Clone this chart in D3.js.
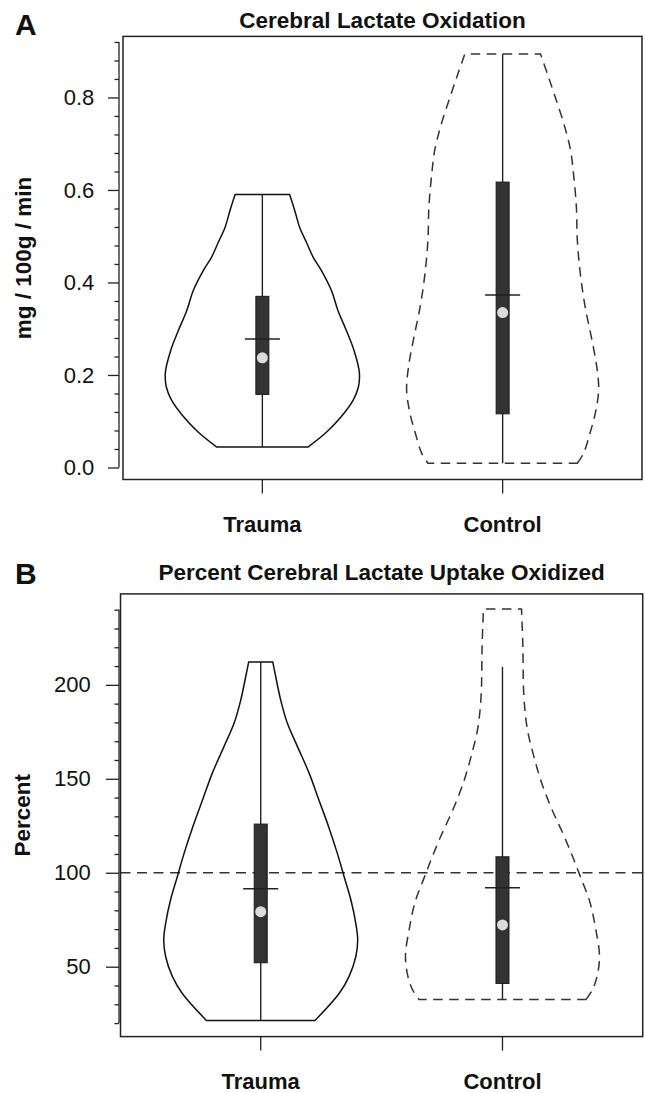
<!DOCTYPE html>
<html><head><meta charset="utf-8">
<script src="https://cdn.jsdelivr.net/npm/d3@7"></script>
<style>
body{margin:0;background:#fff}
svg{display:block}
text{font-family:"Liberation Sans",Arial,Helvetica,sans-serif;fill:#111}
</style>
</head><body>
<svg id="chart" width="645" height="1093"></svg>
<script>
// ---------------- DATA ----------------
const categories = ["Trauma", "Control"];

// Panel A : Cerebral Lactate Oxidation
const aTitle = "Cerebral Lactate Oxidation";
const aYLabel = "mg / 100g / min";
const aMajorTicks = [0.0, 0.2, 0.4, 0.6, 0.8];
const aTickLabels = ["0.0", "0.2", "0.4", "0.6", "0.8"];
const aMinorTicks = [0.04,0.08,0.12,0.16,0.24,0.28,0.32,0.36,0.44,0.48,0.52,0.56,0.64,0.68,0.72,0.76,0.84,0.88,0.92];
const aWhiskerLow  = [0.044, 0.009];
const aWhiskerHigh = [0.590, 0.894];
const aQ1     = [0.158, 0.116];
const aQ3     = [0.370, 0.617];
const aMedian = [0.237, 0.335];
const aMean   = [0.278, 0.373];
// violin profiles: [value, relative density]
const aTraumaDensity = [
  [0.044,0.47],[0.076,0.66],[0.109,0.81],[0.145,0.935],[0.174,0.99],[0.205,1.0],
  [0.253,0.945],[0.296,0.866],[0.339,0.78],[0.383,0.711],[0.426,0.608],[0.455,0.523],
  [0.487,0.454],[0.519,0.385],[0.556,0.333],[0.590,0.281]
];
const aControlDensity = [
  [0.009,0.77],[0.031,0.835],[0.074,0.90],[0.117,0.955],[0.168,0.99],[0.218,0.97],
  [0.276,0.92],[0.348,0.85],[0.420,0.80],[0.492,0.77],[0.564,0.76],[0.636,0.73],
  [0.686,0.70],[0.744,0.63],[0.802,0.54],[0.852,0.46],[0.894,0.39]
];

// Panel B : Percent Cerebral Lactate Uptake Oxidized
const bTitle = "Percent Cerebral Lactate Uptake Oxidized";
const bYLabel = "Percent";
const bMajorTicks = [50, 100, 150, 200];
const bTickLabels = ["50", "100", "150", "200"];
const bMinorTicks = [20,30,40,60,70,80,90,110,120,130,140,160,170,180,190,210,220,230,240];
const bReference = 100;
const bWhiskerLow  = [21.4, 32.5];
const bWhiskerHigh = [212.2, 209.6];
const bQ1     = [52.1, 41.1];
const bQ3     = [125.9, 108.5];
const bMedian = [79.3, 72.2];
const bMean   = [91.5, 92.0];
const bTraumaDensity = [
  [21.4,0.56],[35.9,0.81],[44.7,0.91],[55.3,0.98],[64.2,1.0],[73.1,0.98],[85.5,0.93],
  [97.9,0.86],[110.3,0.79],[124.5,0.70],[138.7,0.60],[152.9,0.50],[167.0,0.38],
  [179.5,0.275],[191.9,0.206],[204.3,0.155],[212.2,0.124]
];
const bControlDensity = [
  [32.5,0.86],[38,0.93],[46,0.98],[56,1.0],[70.4,0.96],[84.6,0.90],[97.0,0.81],
  [107.7,0.73],[120.1,0.63],[134.3,0.505],[148.4,0.40],[162.6,0.32],[176.8,0.255],
  [194.5,0.22],[221.1,0.21],[240.3,0.196]
];

// ---------------- DRAW ----------------
const svg = d3.select("#chart");
const widthScale = d3.scaleLinear().domain([0, 1]).range([0, 97]);

function drawPanel(p) {
  const g = svg.append("g");
  const y = d3.scaleLinear().domain(p.yDomain).range([p.bottom, p.top]);
  const x = d3.scalePoint().domain(categories).range([p.left, p.right]).padding(0.58);

  // panel letter & title
  g.append("text").attr("x", 15).attr("y", p.letterY).attr("font-size", 30)
    .attr("font-weight", "bold").text(p.letter);
  g.append("text").attr("x", (p.left + p.right) / 2).attr("y", p.titleY)
    .attr("text-anchor", "middle").attr("font-size", 22.5).attr("font-weight", "bold").text(p.title);

  // y label
  g.append("text")
    .attr("transform", `translate(${p.yLabelX},${(p.top + p.bottom) / 2}) rotate(-90)`)
    .attr("text-anchor", "middle").attr("font-size", 22.5).attr("font-weight", "bold").text(p.yLabel);

  // y axis
  const ax = g.append("g").attr("transform", `translate(${p.axisX},0)`);
  const major = d3.axisLeft(y).tickValues(p.majors).tickSize(p.tickLen).tickPadding(p.tickPad)
    .tickFormat((d, i) => p.tickLabels[i]);
  ax.call(major);
  const minor = d3.axisLeft(y).tickValues(p.minors).tickSize(4.5).tickFormat("");
  ax.append("g").call(minor);
  ax.selectAll(".domain").remove();
  ax.selectAll("line").attr("stroke", "#222").attr("stroke-width", 1.3);
  ax.selectAll("text").attr("font-size", 22).attr("fill", "#111")
    .style("font-family", '"Liberation Sans",Arial,sans-serif');
  const allT = p.majors.concat(p.minors);
  ax.append("line").attr("x1", 0).attr("x2", 0)
    .attr("y1", y(d3.min(allT))).attr("y2", y(d3.max(allT)))
    .attr("stroke", "#222").attr("stroke-width", 1.3);

  // reference line
  if (p.reference !== undefined) {
    g.append("line").attr("x1", p.left).attr("x2", p.right)
      .attr("y1", y(p.reference)).attr("y2", y(p.reference))
      .attr("stroke", "#333").attr("stroke-width", 1.6).attr("stroke-dasharray", "10,6.5");
  }

  // violins
  categories.forEach((c, i) => {
    const cx = x(c);
    const area = d3.area()
      .y(d => y(d[0]))
      .x0(d => cx - widthScale(d[1]))
      .x1(d => cx + widthScale(d[1]))
      .curve(d3.curveCatmullRom.alpha(0.5));
    g.append("path").attr("d", area(p.density[i]))
      .attr("fill", "none").attr("stroke", i === 0 ? "#111" : "#333")
      .attr("stroke-width", 1.5)
      .attr("stroke-dasharray", i === 0 ? null : "9.5,6.5");
    // whisker
    g.append("line").attr("x1", cx).attr("x2", cx)
      .attr("y1", y(p.lo[i])).attr("y2", y(p.hi[i]))
      .attr("stroke", "#222").attr("stroke-width", 1.4);
    // box
    g.append("rect").attr("x", cx - 6.5).attr("width", 13)
      .attr("y", y(p.q3[i])).attr("height", y(p.q1[i]) - y(p.q3[i]))
      .attr("fill", "#333").attr("stroke", "#1a1a1a").attr("stroke-width", 1);
    // mean
    g.append("line").attr("x1", cx - 17.5).attr("x2", cx + 17.5)
      .attr("y1", y(p.mean[i])).attr("y2", y(p.mean[i]))
      .attr("stroke", "#222").attr("stroke-width", 1.5);
    // median
    g.append("circle").attr("cx", cx).attr("cy", y(p.median[i])).attr("r", 5.5)
      .attr("fill", "#dcdcdc");
    // x tick + label
    g.append("line").attr("x1", cx).attr("x2", cx)
      .attr("y1", p.bottom).attr("y2", p.bottom + 14)
      .attr("stroke", "#222").attr("stroke-width", 1.3);
    g.append("text").attr("x", cx).attr("y", p.bottom + 52.5)
      .attr("text-anchor", "middle").attr("font-size", 22).attr("font-weight", "bold").text(c);
  });

  // frame
  g.append("rect").attr("x", p.left).attr("y", p.top)
    .attr("width", p.right - p.left).attr("height", p.bottom - p.top)
    .attr("fill", "none").attr("stroke", "#222").attr("stroke-width", 1.5);
}

drawPanel({
  letter: "A", letterY: 34.5, title: aTitle, titleY: 27.5, yLabel: aYLabel, yLabelX: 31,
  left: 123, right: 642, top: 36.4, bottom: 479.5, axisX: 119, tickLen: 11, tickPad: 13.7,
  yDomain: [-0.026, 0.932], majors: aMajorTicks, tickLabels: aTickLabels, minors: aMinorTicks,
  density: [aTraumaDensity, aControlDensity], lo: aWhiskerLow, hi: aWhiskerHigh,
  q1: aQ1, q3: aQ3, median: aMedian, mean: aMean
});
drawPanel({
  letter: "B", letterY: 584, title: bTitle, titleY: 579.5, yLabel: bYLabel, yLabelX: 30,
  left: 120.5, right: 642.7, top: 593.9, bottom: 1036.6, axisX: 119, tickLen: 13, tickPad: 15.3,
  yDomain: [12.8, 248.4], majors: bMajorTicks, tickLabels: bTickLabels, minors: bMinorTicks,
  reference: bReference,
  density: [bTraumaDensity, bControlDensity], lo: bWhiskerLow, hi: bWhiskerHigh,
  q1: bQ1, q3: bQ3, median: bMedian, mean: bMean
});
</script>
</body></html>
